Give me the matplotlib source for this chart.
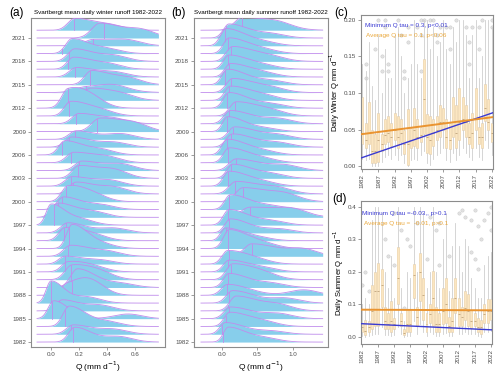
import numpy as np
import matplotlib.pyplot as plt

plt.rcParams['font.family'] = ['Liberation Sans', 'DejaVu Sans']

years = list(range(1982, 2023))

# (a) winter ridges: main peak Q, peak height (rows), left spread, second hump Q, hump height, median
win_peak = [0.17, 0.16, 0.13, 0.02, 0.08, 0.00, 0.12, 0.19, 0.15, 0.12,
            0.10, 0.14, 0.15, 0.10, 0.12, 0.00, 0.05, 0.09, 0.12, 0.18,
            0.15, 0.20, 0.22, 0.16, 0.10, 0.15, 0.18, 0.35, 0.20, 0.14,
            0.12, 0.28, 0.25, 0.29, 0.18, 0.16, 0.17, 0.15, 0.30, 0.35,
            0.17]
win_peak_h = [1.9, 1.2, 2.6, 2.3, 1.4, 2.8, 1.2, 2.4, 1.8, 1.2,
              1.0, 1.4, 3.0, 1.6, 1.3, 2.6, 1.8, 1.6, 1.9, 1.5,
              1.2, 1.6, 1.2, 1.3, 1.8, 1.3, 1.1, 1.7, 1.3, 1.8,
              2.2, 1.5, 0.7, 1.8, 1.2, 1.5, 1.6, 1.9, 0.8, 1.9,
              1.5]
win_peak_sd = [0.045, 0.05, 0.045, 0.04, 0.045, 0.035, 0.05, 0.05, 0.05, 0.045,
               0.045, 0.05, 0.04, 0.045, 0.05, 0.035, 0.045, 0.045, 0.045, 0.05,
               0.05, 0.05, 0.05, 0.05, 0.045, 0.05, 0.05, 0.06, 0.05, 0.045,
               0.045, 0.05, 0.08, 0.05, 0.05, 0.045, 0.05, 0.045, 0.06, 0.06,
               0.05]
win_hump = [0.48, 0.45, 0.40, 0.55, 0.35, 0.25, 0.28, 0.50, 0.35, 0.30,
            0.35, 0.40, 0.35, 0.30, 0.45, 0.20, 0.30, 0.35, 0.30, 0.45,
            0.42, 0.45, 0.50, 0.40, 0.35, 0.45, 0.50, 0.60, 0.45, 0.35,
            0.28, 0.50, 0.45, 0.55, 0.45, 0.40, 0.45, 0.40, 0.55, 0.65,
            0.42]
win_hump_h = [0.7, 0.6, 0.6, 0.6, 0.7, 0.8, 1.6, 0.5, 0.8, 0.6,
              0.5, 0.6, 0.6, 0.7, 0.6, 0.8, 0.7, 0.6, 0.8, 0.8,
              0.7, 1.0, 0.8, 0.7, 0.7, 0.6, 0.7, 0.8, 0.6, 0.7,
              1.2, 0.7, 0.6, 0.8, 0.6, 0.7, 0.7, 0.6, 0.6, 0.9,
              0.6]
win_median = [0.155, 0.143, 0.10, 0.005, 0.06, 0.00, 0.15, 0.14, 0.14, 0.10,
              0.10, 0.12, 0.13, 0.09, 0.11, 0.02, 0.05, 0.08, 0.11, 0.16,
              0.14, 0.19, 0.20, 0.14, 0.08, 0.13, 0.17, 0.33, 0.18, 0.13,
              0.12, 0.25, 0.25, 0.28, 0.17, 0.12, 0.13, 0.08, 0.30, 0.38,
              0.165]

# (b) summer ridges
sum_peak = [0.09, 0.05, 0.11, 0.12, 0.20, 0.15, 0.08, 0.10, 0.15, 0.10,
            0.08, 0.42, 0.10, 0.05, 0.12, 0.10, 0.40, 0.12, 0.30, 0.20,
            0.10, 0.15, 0.20, 0.10, 0.08, 0.15, 0.18, 0.08, 0.12, 0.20,
            0.10, 0.12, 0.15, 0.08, 0.12, 0.10, 0.15, 0.10, 0.06, 0.10,
            0.28]
sum_peak_h = [1.9, 1.5, 1.8, 1.5, 1.9, 1.6, 1.4, 1.8, 2.0, 1.5,
              1.7, 1.6, 2.4, 1.6, 1.8, 2.0, 1.3, 1.9, 1.8, 1.6,
              1.9, 1.8, 1.5, 1.9, 2.0, 1.7, 1.6, 1.9, 1.7, 1.8,
              2.0, 1.8, 1.8, 2.0, 1.7, 1.8, 1.9, 2.0, 2.2, 1.8,
              1.6]
sum_peak_sd = [0.07, 0.08, 0.08, 0.09, 0.09, 0.09, 0.09, 0.08, 0.09, 0.08,
               0.08, 0.11, 0.08, 0.07, 0.08, 0.08, 0.13, 0.08, 0.11, 0.10,
               0.08, 0.08, 0.10, 0.08, 0.08, 0.09, 0.09, 0.07, 0.09, 0.09,
               0.08, 0.08, 0.09, 0.08, 0.08, 0.08, 0.09, 0.08, 0.08, 0.08,
               0.11]
sum_hump = [0.60, 0.70, 0.60, 0.80, 0.80, 0.90, 1.15, 0.70, 0.60, 0.60,
            0.50, 1.15, 0.60, 0.50, 0.80, 0.70, 1.00, 0.70, 0.90, 0.80,
            0.60, 0.70, 0.90, 0.60, 0.60, 0.80, 0.80, 0.60, 0.80, 0.70,
            0.70, 0.60, 0.70, 0.70, 0.60, 0.60, 0.70, 0.60, 0.60, 0.70,
            0.80]
sum_hump_h = [0.5, 0.4, 0.5, 0.6, 0.7, 0.6, 0.7, 0.5, 0.5, 0.4,
              0.4, 0.8, 0.5, 0.4, 0.5, 0.5, 0.7, 0.4, 0.7, 0.6,
              0.4, 0.5, 0.6, 0.4, 0.4, 0.5, 0.5, 0.4, 0.6, 0.5,
              0.5, 0.5, 0.5, 0.5, 0.4, 0.4, 0.5, 0.4, 0.4, 0.5,
              0.6]
sum_median = [0.02, 0.00, 0.05, 0.10, 0.08, 0.10, 0.07, 0.08, 0.12, 0.08,
              0.10, 0.42, 0.08, 0.05, 0.10, 0.08, 0.40, 0.10, 0.30, 0.18,
              0.08, 0.12, 0.20, 0.08, 0.07, 0.13, 0.15, 0.07, 0.10, 0.18,
              0.065, 0.10, 0.13, 0.04, 0.10, 0.09, 0.12, 0.08, 0.04, 0.06,
              0.28]

# (c) winter daily Q boxplots
c_q1 = [0.030, 0.025, 0.030, 0.004, 0.004, 0.006, 0.020, 0.030, 0.033, 0.028,
        0.035, 0.025, 0.033, 0.016, 0.001, 0.025, 0.028, 0.025, 0.033, 0.044,
        0.018, 0.016, 0.028, 0.035, 0.040, 0.049, 0.025, 0.023, 0.040, 0.025,
        0.035, 0.049, 0.040, 0.030, 0.025, 0.049, 0.030, 0.025, 0.061, 0.049,
        0.033]
c_med = [0.045, 0.035, 0.045, 0.020, 0.020, 0.035, 0.030, 0.042, 0.045, 0.040,
         0.050, 0.040, 0.045, 0.030, 0.030, 0.035, 0.050, 0.040, 0.042, 0.092,
         0.040, 0.035, 0.045, 0.050, 0.060, 0.060, 0.040, 0.035, 0.060, 0.045,
         0.060, 0.065, 0.060, 0.040, 0.045, 0.065, 0.040, 0.040, 0.080, 0.060,
         0.045]
c_q3 = [0.095, 0.059, 0.088, 0.049, 0.044, 0.073, 0.044, 0.064, 0.068, 0.059,
        0.073, 0.068, 0.064, 0.049, 0.078, 0.052, 0.080, 0.064, 0.054, 0.147,
        0.071, 0.068, 0.064, 0.068, 0.083, 0.080, 0.064, 0.059, 0.095, 0.083,
        0.107, 0.095, 0.083, 0.059, 0.073, 0.107, 0.054, 0.059, 0.112, 0.092,
        0.059]
c_lo = [0.010, 0.008, 0.010, 0.000, 0.000, 0.000, 0.006, 0.012, 0.015, 0.010,
        0.015, 0.008, 0.015, 0.004, 0.000, 0.008, 0.010, 0.008, 0.015, 0.020,
        0.004, 0.002, 0.010, 0.015, 0.018, 0.025, 0.008, 0.006, 0.018, 0.008,
        0.015, 0.025, 0.018, 0.012, 0.008, 0.025, 0.012, 0.008, 0.035, 0.025,
        0.015]
c_hi = [0.14, 0.13, 0.17, 0.11, 0.09, 0.18, 0.10, 0.16, 0.12, 0.12,
        0.18, 0.19, 0.15, 0.10, 0.12, 0.14, 0.20, 0.14, 0.12, 0.20,
        0.20, 0.16, 0.19, 0.15, 0.17, 0.20, 0.16, 0.14, 0.19, 0.17,
        0.20, 0.20, 0.18, 0.12, 0.18, 0.20, 0.12, 0.15, 0.20, 0.20,
        0.19]
c_out_year = [1983, 1983, 1986, 1987, 1988, 1988, 1989, 1989, 1990, 1990,
              1993, 1994, 1995, 1995, 1996, 1996, 1999, 2000, 2000, 2000,
              2001, 2003, 2004, 2005, 2005, 2006, 2008, 2009, 2009, 2011,
              2014, 2015, 2015, 2016, 2018, 2018, 2019, 2022, 2022]
c_out_val = [0.14, 0.12, 0.16, 0.20, 0.15, 0.13, 0.20, 0.19, 0.14, 0.13,
             0.20, 0.18, 0.13, 0.12, 0.17, 0.19, 0.19, 0.20, 0.13, 0.18,
             0.20, 0.20, 0.20, 0.18, 0.17, 0.19, 0.19, 0.19, 0.16, 0.20,
             0.19, 0.14, 0.17, 0.19, 0.19, 0.16, 0.20, 0.20, 0.19]
c_min_trend = [0.011, 0.073]
c_avg_trend = [0.0435, 0.067]

# (d) summer daily Q boxplots
d_q1 = [0.015, 0.005, 0.015, 0.024, 0.034, 0.034, 0.092, 0.024, 0.024, 0.015,
        0.024, 0.102, 0.034, 0.005, 0.015, 0.015, 0.121, 0.034, 0.112, 0.053,
        0.015, 0.044, 0.034, 0.015, 0.015, 0.039, 0.044, 0.015, 0.015, 0.073,
        0.034, 0.034, 0.053, 0.034, 0.029, 0.034, 0.015, 0.010, 0.044, 0.044,
        0.053]
d_med = [0.030, 0.020, 0.030, 0.080, 0.140, 0.140, 0.160, 0.050, 0.040, 0.050,
         0.040, 0.180, 0.050, 0.012, 0.040, 0.040, 0.190, 0.060, 0.200, 0.130,
         0.040, 0.070, 0.120, 0.040, 0.040, 0.080, 0.100, 0.035, 0.050, 0.120,
         0.070, 0.060, 0.090, 0.080, 0.050, 0.050, 0.030, 0.030, 0.070, 0.080,
         0.080]
d_q3 = [0.044, 0.053, 0.049, 0.160, 0.200, 0.228, 0.210, 0.092, 0.073, 0.112,
        0.058, 0.277, 0.073, 0.024, 0.087, 0.083, 0.223, 0.092, 0.257, 0.180,
        0.073, 0.102, 0.204, 0.092, 0.073, 0.150, 0.180, 0.063, 0.121, 0.180,
        0.121, 0.092, 0.141, 0.131, 0.083, 0.073, 0.058, 0.053, 0.102, 0.117,
        0.117]
d_lo = [0.002, 0.000, 0.003, 0.005, 0.008, 0.010, 0.030, 0.005, 0.005, 0.002,
        0.005, 0.030, 0.010, 0.000, 0.003, 0.003, 0.050, 0.010, 0.040, 0.015,
        0.003, 0.015, 0.008, 0.003, 0.003, 0.010, 0.012, 0.003, 0.002, 0.030,
        0.008, 0.010, 0.015, 0.008, 0.008, 0.010, 0.003, 0.000, 0.015, 0.015,
        0.020]
d_hi = [0.10, 0.12, 0.10, 0.36, 0.40, 0.40, 0.38, 0.20, 0.15, 0.25,
        0.12, 0.40, 0.15, 0.05, 0.20, 0.18, 0.40, 0.20, 0.40, 0.38,
        0.15, 0.20, 0.40, 0.20, 0.15, 0.30, 0.38, 0.14, 0.28, 0.35,
        0.28, 0.20, 0.30, 0.28, 0.18, 0.15, 0.12, 0.12, 0.22, 0.25,
        0.26]
d_out_year = [1982, 1983, 1984, 1989, 1990, 1992, 1992, 1994, 1995, 1996,
              1997, 1999, 2002, 2003, 2005, 2006, 2006, 2009, 2012, 2013,
              2014, 2016, 2016, 2017, 2017, 2018, 2018, 2019, 2020, 2021,
              2022, 2022]
d_out_val = [0.16, 0.20, 0.14, 0.30, 0.25, 0.22, 0.38, 0.33, 0.09, 0.30,
             0.28, 0.35, 0.24, 0.37, 0.33, 0.22, 0.35, 0.25, 0.38, 0.39,
             0.37, 0.26, 0.36, 0.24, 0.39, 0.21, 0.34, 0.30, 0.36, 0.38,
             0.40, 0.33]
d_min_trend = [0.041, 0.022]
d_avg_trend = [0.084, 0.082]

trend_years = [1981.6, 2022.4]

ridge_fill = '#87ceeb'
ridge_line = '#c08cec'
frame_col = '#8c8c8c'
tick_col = '#4d4d4d'
blue = '#3a3ad2'
orange = '#ea9430'


def style_axes(ax):
    for s in ax.spines.values():
        s.set_color(frame_col)
        s.set_linewidth(0.8)
    ax.tick_params(colors=frame_col, labelcolor=tick_col, labelsize=4.5,
                   length=2, width=0.6, pad=1.5)


def ridges(ax, peak, peak_h, peak_sd, hump, hump_h, med, x0, x1, skew, hump_sd):
    x = np.linspace(x0, x1, 500)
    n = len(years)
    for i in range(n - 1, -1, -1):
        yr = years[i]
        sd = np.where(x < peak[i], peak_sd[i], peak_sd[i] * skew)
        d = peak_h[i] * np.exp(-0.5 * ((x - peak[i]) / sd) ** 2)
        d = d + hump_h[i] * np.exp(-0.5 * ((x - hump[i]) / hump_sd) ** 2)
        z = 2 * (n - i)
        ax.fill_between(x, yr, yr + d, color=ridge_fill, lw=0, zorder=z)
        ax.plot(x, yr + d, color=ridge_line, lw=0.6, zorder=z + 1)
        dm = np.interp(med[i], x, d)
        ax.plot([med[i], med[i]], [yr, yr + dm], color=ridge_line, lw=0.6, zorder=z + 1)
    ax.set_ylim(1981.36, 2023.56)
    ax.set_yticks(years[::3])
    style_axes(ax)


def boxes(ax, q1, med, q3, lo, hi, out_y, out_v):
    stats = []
    for i in range(len(years)):
        stats.append(dict(med=med[i], q1=q1[i], q3=q3[i], whislo=lo[i], whishi=hi[i], fliers=[]))
    ax.bxp(stats, positions=years, widths=0.62, patch_artist=True, showfliers=False,
           showcaps=False,
           boxprops=dict(facecolor='#fbe2b6', edgecolor='#ecd0a2', linewidth=0.5, alpha=0.85),
           medianprops=dict(color='#bfa27a', linewidth=0.6),
           whiskerprops=dict(color='#cfcfcf', linewidth=0.6))
    ax.scatter(out_y, out_v, s=6, facecolor='#c4c4c4', edgecolor='#a0a0a0',
               linewidths=0.3, alpha=0.5, zorder=1)
    ax.set_xlim(1981.6, 2022.4)
    ax.set_xticks(years[::5])
    ax.set_xticklabels([str(y) for y in years[::5]], rotation=90)
    style_axes(ax)


fig = plt.figure(figsize=(5, 3.76), dpi=100)

ax_a = fig.add_axes([0.062, 0.077, 0.268, 0.875])
ridges(ax_a, win_peak, win_peak_h, win_peak_sd, win_hump, win_hump_h, win_median,
       -0.1, 0.767, 2.6, 0.1)
ax_a.set_xlim(-0.143, 0.814)
ax_a.set_xticks([0.0, 0.2, 0.4, 0.6])
ax_a.set_xlabel('Q (mm d$^{-1}$)', fontsize=6, labelpad=2)
ax_a.set_title('Svartbergt mean daily winter runoff 1982-2022', fontsize=4.5, pad=3)

ax_b = fig.add_axes([0.388, 0.077, 0.268, 0.875])
ridges(ax_b, sum_peak, sum_peak_h, sum_peak_sd, sum_hump, sum_hump_h, sum_median,
       -0.296, 1.418, 3.4, 0.2)
ax_b.set_xlim(-0.394, 1.493)
ax_b.set_xticks([0.0, 0.5, 1.0])
ax_b.set_xlabel('Q (mm d$^{-1}$)', fontsize=6, labelpad=2)
ax_b.set_title('Svartbergt mean daily summer runoff 1982-2022', fontsize=4.5, pad=3)

ax_c = fig.add_axes([0.722, 0.5505, 0.264, 0.4096])
boxes(ax_c, c_q1, c_med, c_q3, c_lo, c_hi, c_out_year, c_out_val)
ax_c.plot(trend_years, c_min_trend, color=blue, lw=1.0, zorder=5)
ax_c.plot(trend_years, c_avg_trend, color=orange, lw=1.4, zorder=5)
ax_c.set_ylim(-0.0041, 0.2068)
ax_c.set_yticks([0.0, 0.05, 0.10, 0.15, 0.20])
ax_c.set_yticklabels(['0.00', '0.05', '0.10', '0.15', '0.20'])
ax_c.set_ylabel('Daily Winter Q mm d$^{-1}$', fontsize=5.5, labelpad=1)
ax_c.text(0.03, 0.92, 'Minimum Q tau = 0.3, p<0.01', transform=ax_c.transAxes,
          color=blue, fontsize=4.6, zorder=6)
ax_c.text(0.04, 0.855, 'Average Q tau = 0.1, p<0.06', transform=ax_c.transAxes,
          color='#eaa83c', fontsize=4.6, zorder=6)

ax_d = fig.add_axes([0.722, 0.0851, 0.262, 0.3803])
boxes(ax_d, d_q1, d_med, d_q3, d_lo, d_hi, d_out_year, d_out_val)
ax_d.plot(trend_years, d_min_trend, color=blue, lw=1.0, zorder=5)
ax_d.plot(trend_years, d_avg_trend, color=orange, lw=1.4, zorder=5)
ax_d.set_ylim(-0.0215, 0.418)
ax_d.set_yticks([0.0, 0.1, 0.2, 0.3, 0.4])
ax_d.set_ylabel('Daily Summer Q mm d$^{-1}$', fontsize=5.5, labelpad=1)
ax_d.text(0.01, 0.905, 'Minimum Q tau =-0.03,, p>0.1', transform=ax_d.transAxes,
          color=blue, fontsize=4.6, zorder=6)
ax_d.text(0.02, 0.83, 'Average Q tau =  -0.01, p>0.1', transform=ax_d.transAxes,
          color='#eaa83c', fontsize=4.6, zorder=6)

fig.text(0.018, 0.965, '(a)', fontsize=8.5, va='center')
fig.text(0.343, 0.965, '(b)', fontsize=8.5, va='center')
fig.text(0.668, 0.965, '(c)', fontsize=8.5, va='center')
fig.text(0.664, 0.47, '(d)', fontsize=8.5, va='center')

fig.savefig('out.png', dpi=100)
